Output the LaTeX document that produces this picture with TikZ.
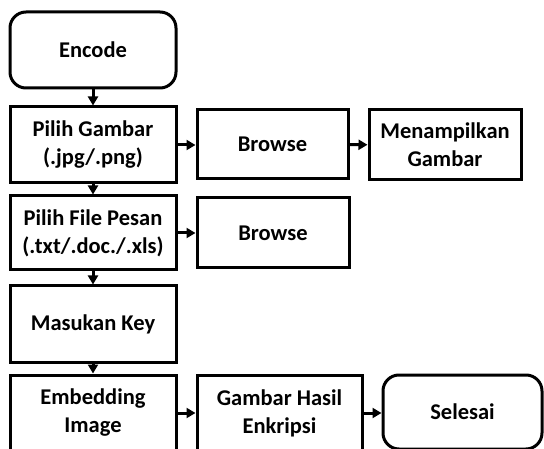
\documentclass[tikz,border=0pt]{standalone}
\usepackage{fontspec}
\setmainfont{Carlito}
\usetikzlibrary{arrows.meta}
\tikzset{
  box/.style={draw=black, line width=3pt, fill=white, align=center,
    font=\fontsize{22.5}{28}\selectfont\bfseries, inner sep=0pt},
  term/.style={box, rounded corners=16pt},
  flow/.style={line width=3pt, -{Triangle[length=9pt,width=10pt]}}
}
\begin{document}
\begin{tikzpicture}[x=1pt,y=-1pt]
\useasboundingbox (0,0) rectangle (544,449);
\node[term, minimum width=166pt, minimum height=76pt] (enc) at (93,50) {Encode};
\node[box, minimum width=166pt, minimum height=76pt] (pg) at (93,145) {Pilih Gambar\\(.jpg/.png)};
\node[box, minimum width=151pt, minimum height=69pt] (b1) at (272.5,144.5) {Browse};
\node[box, minimum width=152pt, minimum height=70pt] (tg) at (445,145) {Menampilkan\\Gambar};
\node[box, minimum width=166pt, minimum height=74pt] (pf) at (93,233) {Pilih File Pesan\\(.txt/.doc./.xls)};
\node[box, minimum width=152pt, minimum height=70pt] (b2) at (273,233) {Browse};
\node[box, minimum width=166pt, minimum height=76pt] (key) at (93,324) {Masukan Key};
\node[box, minimum width=166pt, minimum height=76pt] (emb) at (93,413) {Embedding\\Image};
\node[box, minimum width=165pt, minimum height=76pt] (gh) at (279.5,413) {Gambar Hasil\\Enkripsi};
\node[term, minimum width=159pt, minimum height=74pt] (end) at (462.5,412) {Selesai};
\draw[flow] (enc) -- (pg);
\draw[flow] (pg) -- (pf);
\draw[flow] (pf) -- (key);
\draw[flow] (key) -- (emb);
\draw[flow] (pg.east) -- (b1.west |- pg.east);
\draw[flow] (b1) -- (tg);
\draw[flow] (pf) -- (b2);
\draw[flow] (emb) -- (gh);
\draw[flow] (gh.east) -- (end.west |- gh.east);
\end{tikzpicture}
\end{document}
